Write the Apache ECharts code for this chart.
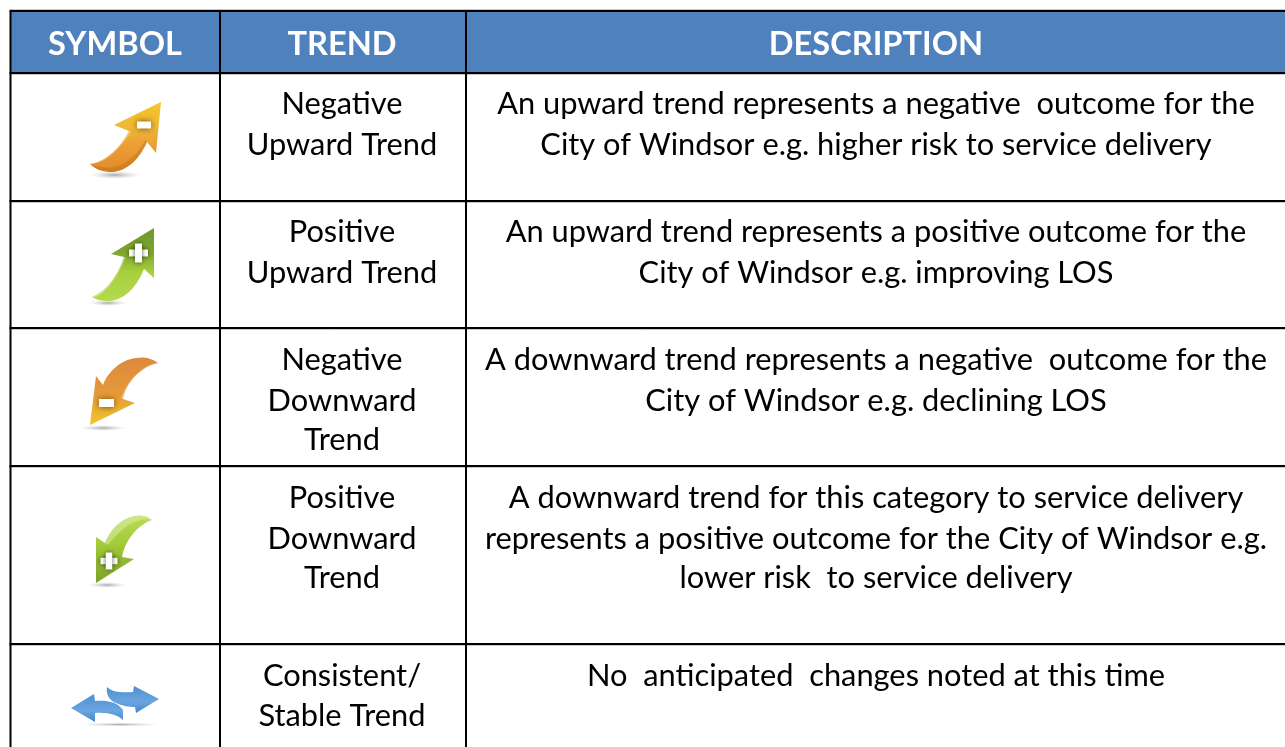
<!DOCTYPE html>
<html><head><meta charset="utf-8">
<style>html,body{margin:0;padding:0;background:#fff}#c{width:1285px;height:747px;filter:blur(0.3px)}</style>
<script src="https://cdn.jsdelivr.net/npm/echarts@6/dist/echarts.min.js"></script>
</head><body><div id="c"></div>
<script>
// ---------- table content ----------
const headers = ['SYMBOL', 'TREND', 'DESCRIPTION'];
const trends = [
  ['Negative', 'Upward Trend'],
  ['Positive', 'Upward Trend'],
  ['Negative', 'Downward', 'Trend'],
  ['Positive', 'Downward', 'Trend'],
  ['Consistent/', 'Stable Trend']
];
const descriptions = [
  ['An upward trend represents a negative  outcome for the', 'City of Windsor e.g. higher risk to service delivery'],
  ['An upward trend represents a positive outcome for the', 'City of Windsor e.g. improving LOS'],
  ['A downward trend represents a negative  outcome for the', 'City of Windsor e.g. declining LOS'],
  ['A downward trend for this category to service delivery', 'represents a positive outcome for the City of Windsor e.g.', 'lower risk  to service delivery'],
  ['No  anticipated  changes noted at this time']
];
const iconKinds = ['negUp', 'posUp', 'negDown', 'posDown', 'stable'];

// ---------- layout ----------
const W = 1285, H = 747;
const colEdges = [10.5, 220, 466, 1285];
const rowEdges = [11, 73, 201, 328, 466, 644, 747];
const colCenters = [115, 342, 876];
const headerY = 44;
const lineYs = [[104, 145], [232, 273], [360, 401, 440], [498, 539, 578], [676, 716]];

const orange = [[0, '#f2c62e'], [0.35, '#efb834'], [0.6, '#eba036'], [1, '#e08a2a']];
const orangeD = [[0, '#dc8a3c'], [0.55, '#e6993a'], [0.75, '#eab033'], [1, '#f0c42c']];
const green = [[0, '#6f9530'], [0.35, '#7fa62e'], [0.6, '#a6cf3c'], [1, '#b4da4e']];
const greenD = [[0, '#b9dc55'], [0.4, '#a5cc3a'], [0.7, '#8fb52e'], [1, '#7ca32a']];
const blue = [[0, '#4f8fd0'], [0.6, '#6aa5e0'], [1, '#4585c9']];

const iconPaths = {
  negUp: {
    body: 'M161 102 L114 125 L129 131 C120 148 107 161 90 164 C96 170 104 172 112 172 C128 171 140 158 147 142 L156 153 Z',
    shine: 'M129 131 C120 148 107 161 90 164 C102 165 116 154 131 132 Z',
    shade: 'M147 142 C140 158 128 171 112 172 C104 172 96 170 90 164 C100 168 110 169 120 165 C132 160 140 150 145 140 Z',
    stops: orange, shadow: [115, 175, 26, 4], sign: 'minus', signAt: [144, 125], signSize: [14, 7]
  },
  posUp: {
    body: 'M154 228 L111 254 L124 257 C118 275 107 291 92 297 C98 301 104 301 110 301 C124 300 137 287 144 269 L154 278 Z',
    shine: 'M124 257 C118 275 107 291 92 297 C102 298 114 284 126 258 Z',
    stops: green, shadow: [108, 303, 20, 3], sign: 'plus', signAt: [138.5, 253], signSize: [19, 7]
  },
  negDown: {
    body: 'M90 425 L135 403 L123 399 C126 383 140 367 158 363 C150 357 142 357 136 358 C120 360 108 372 103 385 L96 376 Z',
    shine: 'M123 399 C126 383 140 367 158 363 C146 363 128 378 121 398 Z',
    stops: orangeD, shadow: [103, 428, 24, 3], sign: 'minus', signAt: [106.5, 403], signSize: [15, 8]
  },
  posDown: {
    body: 'M96 583 L134 559 L122 557 C125 541 137 525 152 520 C146 515 140 515 134 516 C120 519 110 530 105 543 L96 537 Z',
    shine: 'M105 543 C110 530 120 519 134 516 C140 515 146 515 152 520 C140 517 124 524 108 545 Z',
    stops: greenD, shadow: [107, 585, 20, 3], sign: 'plus', signAt: [109, 561], signSize: [17, 6.5]
  },
  stable: {
    body: 'M159 699 L134 686 L133 692 C122 693 112 692 107 687 C106 693 108 700 116 703 C122 706 130 707 135 707 L136 713 Z',
    body2: 'M71 708 L94 694 L95 701 C106 700 118 702 123 710 L123 720 C118 715 108 712 95 713 L95 722 Z',
    stops: blue, shadow: [120, 724.5, 42, 2]
  }
};

const chart = echarts.init(document.getElementById('c'), null, { renderer: 'canvas', width: W, height: H });

const textRows = [];
headers.forEach((t, i) => textRows.push([colCenters[i], headerY, t, 1]));
trends.forEach((ls, r) => ls.forEach((t, k) => textRows.push([colCenters[1], lineYs[r][k], t, 0])));
descriptions.forEach((ls, r) => ls.forEach((t, k) => textRows.push([colCenters[2], lineYs[r][k], t, 0])));

function lg(stops) {
  return new echarts.graphic.LinearGradient(0, 0, 0, 1, stops.map(s => ({ offset: s[0], color: s[1] })));
}

function iconChildren(kind) {
  const p = iconPaths[kind];
  const out = [];
  const s = p.shadow;
  out.push({ type: 'circle', x: s[0], y: s[1], scaleY: s[3] / s[2], shape: { cx: 0, cy: 0, r: s[2] },
    style: { fill: new echarts.graphic.RadialGradient(0.5, 0.5, 0.5, [
      { offset: 0, color: 'rgba(110,110,110,0.6)' }, { offset: 1, color: 'rgba(200,200,200,0)' }]) } });
  out.push({ type: 'path', shape: { pathData: p.body }, style: { fill: lg(p.stops) } });
  if (p.body2) out.push({ type: 'path', shape: { pathData: p.body2 }, style: { fill: lg(p.stops) } });
  if (p.shade) out.push({ type: 'path', shape: { pathData: p.shade }, style: { fill: 'rgba(170,90,10,0.28)' } });
  if (p.shine) out.push({ type: 'path', shape: { pathData: p.shine }, style: { fill: 'rgba(255,255,255,0.3)' } });
  const a = p.signAt, z = p.signSize;
  if (p.sign === 'minus') {
    out.push({ type: 'rect', shape: { x: a[0] - z[0] / 2, y: a[1] - z[1] / 2, width: z[0], height: z[1] },
      style: { fill: '#fff', shadowBlur: 6, shadowColor: 'rgba(90,50,0,0.85)' } });
  } else if (p.sign === 'plus') {
    const st = { fill: '#fff', shadowBlur: 4, shadowColor: 'rgba(30,50,0,0.8)' };
    out.push({ type: 'rect', shape: { x: a[0] - z[0] / 2, y: a[1] - z[1] / 2, width: z[0], height: z[1] }, style: st });
    out.push({ type: 'rect', shape: { x: a[0] - z[1] / 2, y: a[1] - z[0] / 2, width: z[1], height: z[0] }, style: st });
  }
  return { type: 'group', children: out };
}

chart.setOption({
  animation: false,
  backgroundColor: '#ffffff',
  grid: { left: 0, right: 0, top: 0, bottom: 0 },
  xAxis: { type: 'value', min: 0, max: W, show: false },
  yAxis: { type: 'value', min: 0, max: H, inverse: true, show: false },
  series: [
    { // header band and table rules
      type: 'custom', coordinateSystem: 'cartesian2d', silent: true, clip: false, z: 1,
      data: [[0]],
      renderItem(params, api) {
        const kids = [];
        const a = api.coord([colEdges[0], rowEdges[0]]), b = api.coord([W, rowEdges[1]]);
        kids.push({ type: 'rect', shape: { x: a[0], y: a[1], width: b[0] - a[0], height: b[1] - a[1] }, style: { fill: '#4f81bd' } });
        rowEdges.slice(0, -1).forEach((y, i) => {
          const p = api.coord([0, y]);
          const gy = p[1] + (i === 0 ? -1.5 : 1.5);
          kids.push({ type: 'line', shape: { x1: colEdges[0] - 1, y1: gy, x2: W, y2: gy }, style: { stroke: '#c9c9c9', lineWidth: 1 } });
          kids.push({ type: 'line', shape: { x1: colEdges[0] - 1, y1: p[1], x2: W, y2: p[1] }, style: { stroke: '#000', lineWidth: 2 } });
        });
        colEdges.slice(0, -1).forEach(x => {
          const t = api.coord([x, rowEdges[0]]), e = api.coord([x, H]);
          kids.push({ type: 'line', shape: { x1: t[0], y1: t[1], x2: e[0], y2: e[1] }, style: { stroke: '#000', lineWidth: 2 } });
        });
        return { type: 'group', children: kids };
      }
    },
    { // arrows
      type: 'custom', coordinateSystem: 'cartesian2d', silent: true, clip: false, z: 2,
      data: iconKinds.map((k, i) => [i]),
      renderItem(params) { return iconChildren(iconKinds[params.dataIndex]); }
    },
    { // cell text
      type: 'custom', coordinateSystem: 'cartesian2d', silent: true, clip: false, z: 3,
      encode: { x: 0, y: 1 },
      data: textRows,
      renderItem(params, api) {
        const row = textRows[params.dataIndex];
        const p = api.coord([row[0], row[1]]);
        return { type: 'text', style: {
          x: p[0], y: p[1], text: row[2], align: 'center', verticalAlign: 'middle',
          fontFamily: 'Lato, Carlito, sans-serif',
          fontSize: row[3] ? 32.6 : 30.8,
          fontWeight: row[3] ? 'bold' : 'normal',
          fill: row[3] ? '#ffffff' : '#000000'
        } };
      }
    }
  ]
});
</script></body></html>
